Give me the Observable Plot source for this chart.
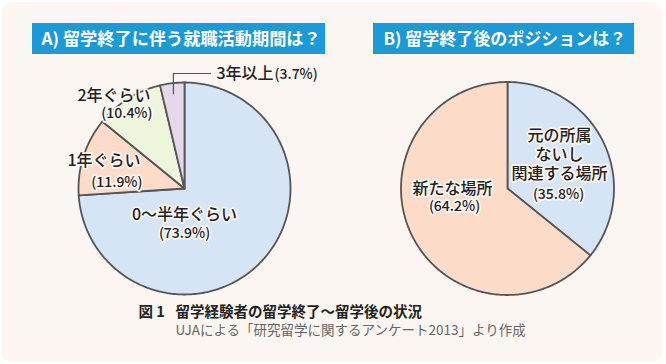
<!DOCTYPE html>
<html>
<head>
<meta charset="utf-8">
<script src="https://cdn.jsdelivr.net/npm/d3@7"></script>
<script src="https://cdn.jsdelivr.net/npm/@observablehq/plot@0.6"></script>
<style>
  html, body { margin: 0; padding: 0; background: #ffffff; }
  #chart svg { display: block; }
</style>
</head>
<body>
<div id="chart"></div>
<script>
// ---- data ----
const titleA = "A) 留学終了に伴う就職活動期間は？";
const titleB = "B) 留学終了後のポジションは？";
const categoriesA = ["0〜半年ぐらい", "1年ぐらい", "2年ぐらい", "3年以上"];
const valuesA = [73.9, 11.9, 10.4, 3.7];
const categoriesB = ["元の所属\nないし\n関連する場所", "新たな場所"];
const valuesB = [35.8, 64.2];
const captionFig = "図 1";
const captionTitle = "留学経験者の留学終了〜留学後の状況";
const captionSource = "UJAによる「研究留学に関するアンケート2013」より作成";

// ---- styles / layout ----
const colorsA = ["#d5e5f5", "#fcdcc9", "#eef5dd", "#e6d8eb"];
const colorsB = ["#d5e5f5", "#fcdcc9"];
const panelColor = "#fbf6f2";
const titleBlue = "#1b9ad7";
const strokeColor = "#555555";
const font = "'Noto Sans CJK JP', 'Noto Sans', sans-serif";
const pieA = {cx: 184, cy: 188, r: 106};
const pieB = {cx: 507, cy: 188, r: 106.5};

const fmt = v => `(${v.toFixed(1)}%)`;

function wedges(values, colors, pie) {
  const total = d3.sum(values);
  let acc = 0;
  return values.map((v, i) => {
    const a0 = acc / total * 2 * Math.PI;
    acc += v;
    const a1 = acc / total * 2 * Math.PI;
    const n = Math.max(2, Math.ceil((a1 - a0) / (Math.PI / 180)));
    const pts = [{x: pie.cx, y: pie.cy}];
    for (let k = 0; k <= n; ++k) {
      const a = a0 + (a1 - a0) * k / n;
      pts.push({x: pie.cx + pie.r * Math.sin(a), y: pie.cy - pie.r * Math.cos(a)});
    }
    pts.push({x: pie.cx, y: pie.cy});
    return {pts, color: colors[i], mid: (a0 + a1) / 2};
  });
}

const wA = wedges(valuesA, colorsA, pieA);
const wB = wedges(valuesB, colorsB, pieB);

const sliceMarks = [...wA, ...wB].map(w =>
  Plot.line(w.pts, {x: "x", y: "y", fill: w.color, stroke: strokeColor, strokeWidth: 1.8, strokeLinejoin: "round"})
);

// leader line for the smallest slice of A
const m = wA[3].mid;
const lx = pieA.cx + pieA.r * 0.9 * Math.sin(m);
const ly = pieA.cy - pieA.r * 0.9 * Math.cos(m);
const leader = [{x: lx, y: ly}, {x: lx, y: 73}, {x: 210, y: 73}];

const lab = {fill: "#222222", fontFamily: font, fontWeight: 500};
const halo = {stroke: panelColor, strokeWidth: 3.5, paintOrder: "stroke"};

const labelsMain = [
  {x: 184, y: 214, t: categoriesA[0], anchor: "middle"},
  {x: 140, y: 160, t: categoriesA[1], anchor: "end"},
  {x: 150, y: 95, t: categoriesA[2], anchor: "end"},
  {x: 216, y: 73, t: categoriesA[3], anchor: "start"},
  {x: 452, y: 188, t: categoriesB[1], anchor: "middle"},
  ...categoriesB[0].split("\n").map((t, i) => ({x: 559, y: 135 + i * 19, t, anchor: "middle"}))
];
const labelsPct = [
  {x: 184, y: 233, t: fmt(valuesA[0]), anchor: "middle"},
  {x: 142, y: 182, t: fmt(valuesA[1]), anchor: "end"},
  {x: 152, y: 113, t: fmt(valuesA[2]), anchor: "end"},
  {x: 274, y: 74, t: fmt(valuesA[3]), anchor: "start"},
  {x: 454, y: 206, t: fmt(valuesB[1]), anchor: "middle"},
  {x: 558, y: 194, t: fmt(valuesB[0]), anchor: "middle"}
];

const anchors = ["start", "middle", "end"];
const textMarks = (rows, size, extra) => anchors.map(a =>
  Plot.text(rows.filter(d => d.anchor === a), {x: "x", y: "y", text: "t", textAnchor: a, fontSize: size, ...lab, ...extra})
);

const chart = Plot.plot({
  width: 666,
  height: 364,
  margin: 0,
  x: {domain: [0, 666], axis: null},
  y: {domain: [0, 364], range: [0, 364], axis: null},
  style: {background: "transparent", fontFamily: font},
  marks: [
    Plot.rect([0], {x1: 2, x2: 662, y1: 2, y2: 362, rx: 10, fill: panelColor}),
    Plot.rect([0], {x1: 32, x2: 325, y1: 23, y2: 54, fill: titleBlue}),
    Plot.rect([0], {x1: 373, x2: 634, y1: 23, y2: 54, fill: titleBlue}),
    Plot.text([titleA], {x: 41, y: 39, text: d => d, textAnchor: "start", fill: "white", fontWeight: "bold", fontSize: 17.2, fontFamily: font}),
    Plot.text([titleB], {x: 383, y: 39, text: d => d, textAnchor: "start", fill: "white", fontWeight: "bold", fontSize: 17, fontFamily: font}),
    ...sliceMarks,
    Plot.line(leader, {x: "x", y: "y", stroke: strokeColor, strokeWidth: 1.2}),
    ...textMarks(labelsMain, 16, halo),
    ...textMarks(labelsPct, 14, halo),
    Plot.text([captionFig], {x: 138, y: 312, text: d => d, textAnchor: "start", fontWeight: "bold", fontSize: 14.5, fill: "#222", fontFamily: font}),
    Plot.text([captionTitle], {x: 175, y: 312, text: d => d, textAnchor: "start", fontWeight: "bold", fontSize: 14.5, fill: "#222", fontFamily: font}),
    Plot.text([captionSource], {x: 175, y: 330, text: d => d, textAnchor: "start", fontSize: 13.5, fill: "#666", fontFamily: font})
  ]
});
document.getElementById("chart").append(chart);
</script>
</body>
</html>
